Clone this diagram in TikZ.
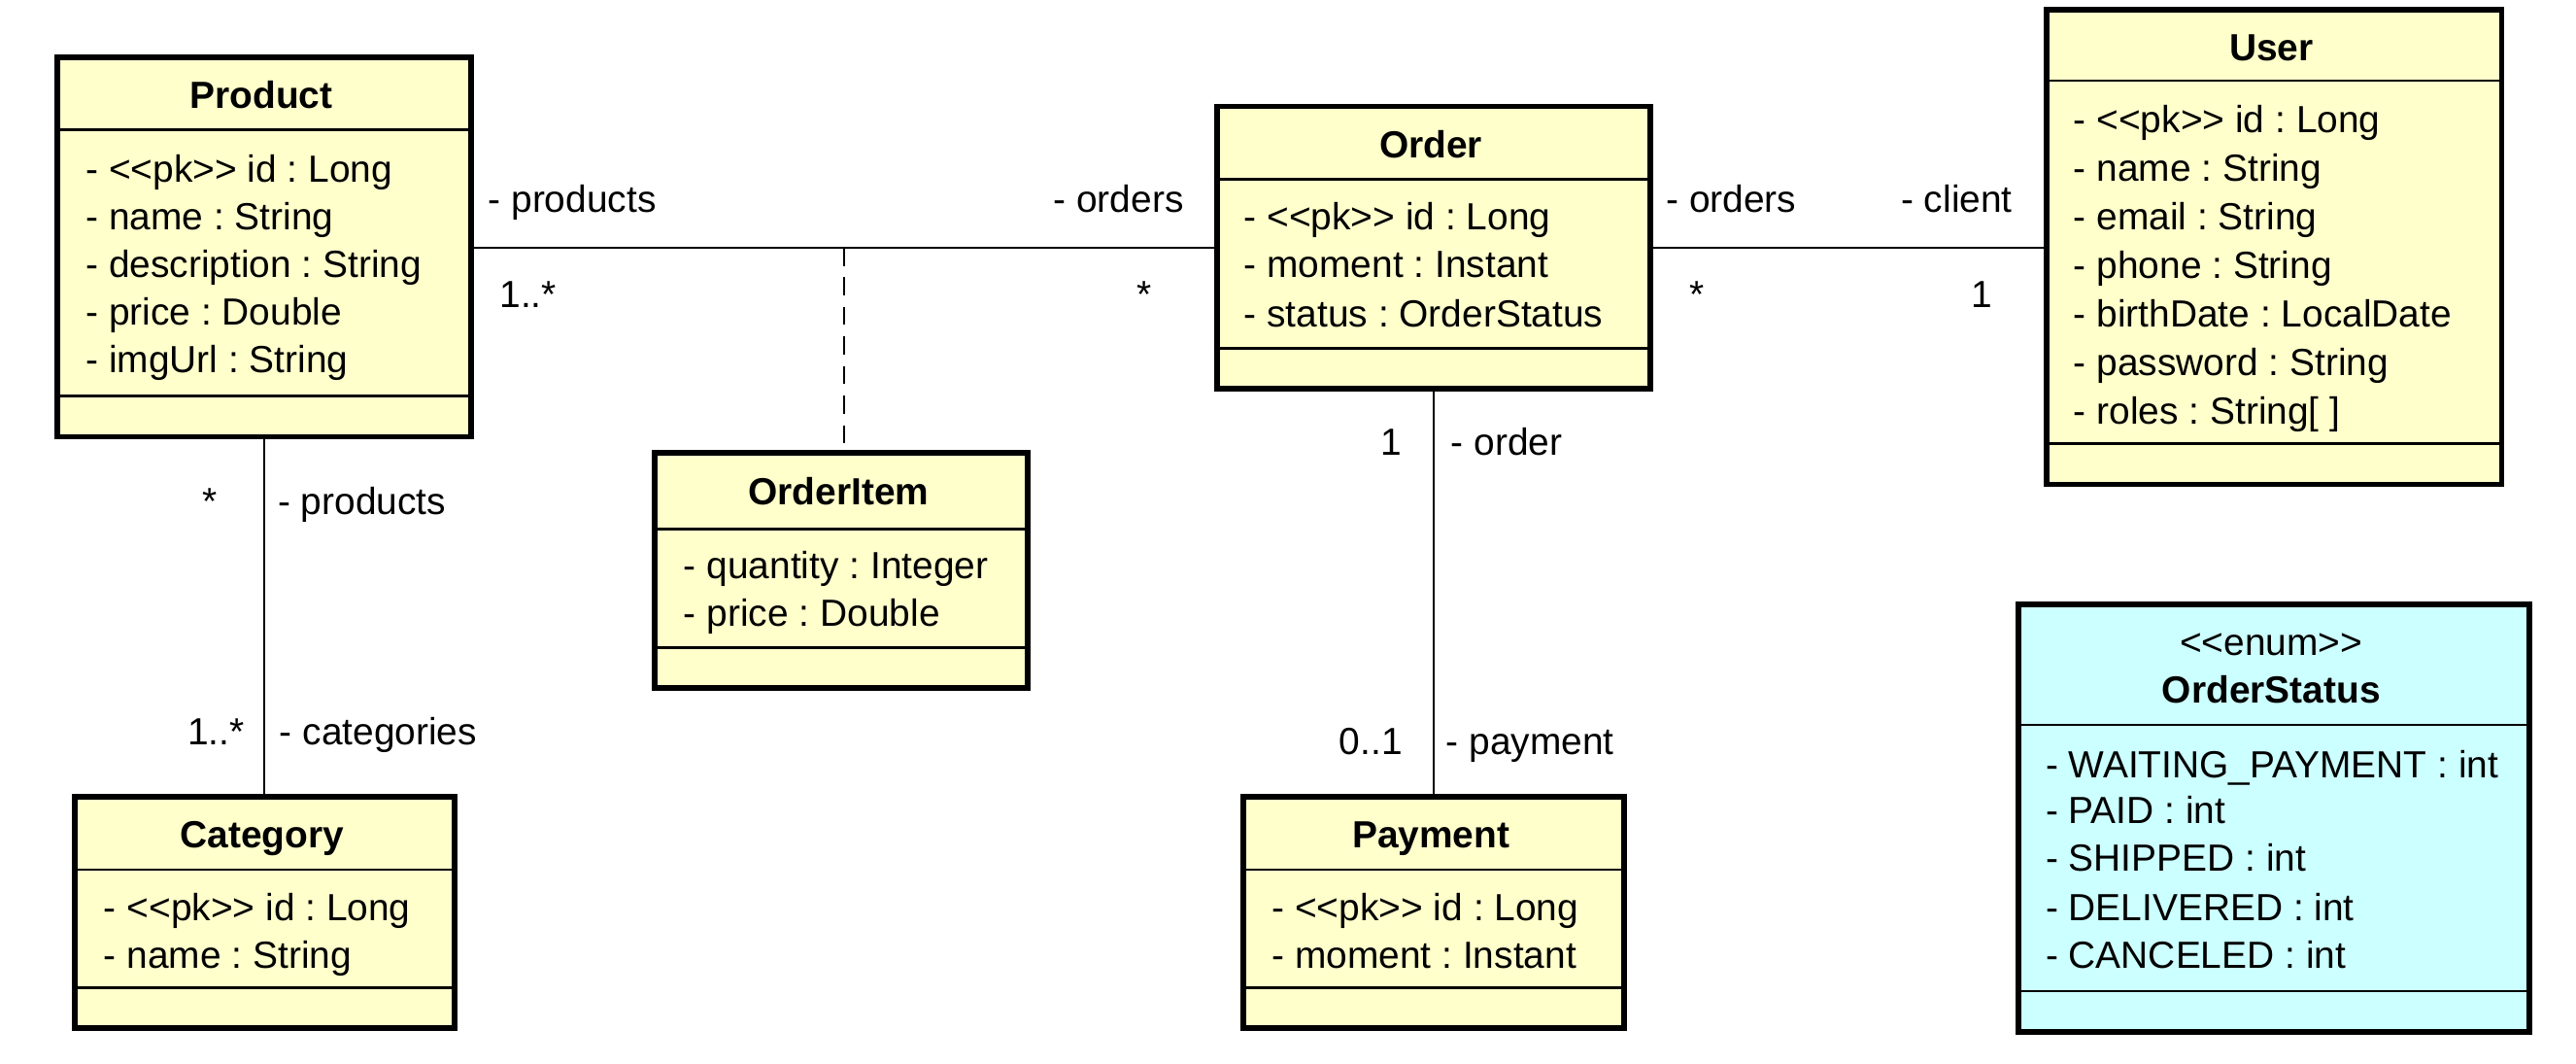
\documentclass[tikz,border=0pt]{standalone}
\usepackage{fontspec}
\setmainfont{Liberation Sans}
\usetikzlibrary{calc}
\frenchspacing
\definecolor{clsfill}{HTML}{FFFFCC}
\definecolor{enumfill}{HTML}{CCFFFF}
\newcommand\stereo[1]{<\kern0pt<#1>\kern0pt>}
\tikzset{
  cls/.style={draw=black, line width=3.5pt, fill=clsfill, anchor=north west, inner sep=0pt},
  enumcls/.style={cls, fill=enumfill},
  divider/.style={line width=1.4pt},
  attr/.style={anchor=base west, inner sep=0pt, font=\fontsize{23}{29}\selectfont},
  ttl/.style={anchor=base, inner sep=0pt, font=\fontsize{23}{29}\selectfont\bfseries},
  lbl/.style={anchor=base west, inner sep=0pt, font=\fontsize{23}{29}\selectfont},
  assoc/.style={line width=1.5pt},
  assocclass/.style={line width=1.5pt, dash pattern=on 11pt off 7pt},
}
\begin{document}
\begin{tikzpicture}[x=1pt,y=-1pt]
\fill[white] (0,0) rectangle (1568,647.4);
\useasboundingbox (0,0) rectangle (1568,647.4);

% Product
\node[cls, minimum width=252pt, minimum height=231pt] (prod) at (33,33) {};
\draw[divider] (33,79) -- (285,79);
\draw[divider] (33,241) -- (285,241);
\node[ttl] (prodT) at (159,66) {Product};
\node[attr] (prodA1) at (52,111) {- \stereo{pk} id : Long};
\node[attr] (prodA2) at (52,140) {- name : String};
\node[attr] (prodA3) at (52,169) {- description : String};
\node[attr] (prodA4) at (52,198) {- price : Double};
\node[attr] (prodA5) at (52,227) {- imgUrl : String};

% Order
\node[cls, minimum width=264pt, minimum height=172pt] (ord) at (739,63) {};
\draw[divider] (739,109) -- (1003,109);
\draw[divider] (739,212) -- (1003,212);
\node[ttl] (ordT) at (871,96) {Order};
\node[attr] (ordA1) at (757,140) {- \stereo{pk} id : Long};
\node[attr] (ordA2) at (757,169) {- moment : Instant};
\node[attr] (ordA3) at (757,199) {- status : OrderStatus};

% User
\node[cls, minimum width=277pt, minimum height=289pt] (user) at (1244,4) {};
\draw[divider] (1244,49) -- (1521,49);
\draw[divider] (1244,270) -- (1521,270);
\node[ttl] (userT) at (1382.5,37) {User};
\node[attr] (userA1) at (1262,81) {- \stereo{pk} id : Long};
\node[attr] (userA2) at (1262,110.5) {- name : String};
\node[attr] (userA3) at (1262,140) {- email : String};
\node[attr] (userA4) at (1262,169.5) {- phone : String};
\node[attr] (userA5) at (1262,199) {- birthDate : LocalDate};
\node[attr] (userA6) at (1262,228.5) {- password : String};
\node[attr] (userA7) at (1262,258) {- roles : String[ ]};

% OrderItem
\node[cls, minimum width=227pt, minimum height=143pt] (oi) at (397,274) {};
\draw[divider] (397,322) -- (624,322);
\draw[divider] (397,394) -- (624,394);
\node[ttl] (oiT) at (510.5,307) {OrderItem};
\node[attr] (oiA1) at (416,352) {- quantity : Integer};
\node[attr] (oiA2) at (416,381) {- price : Double};

% Category
\node[cls, minimum width=231pt, minimum height=141pt] (cat) at (44,483) {};
\draw[divider] (44,529) -- (275,529);
\draw[divider] (44,601) -- (275,601);
\node[ttl] (catT) at (159.5,516) {Category};
\node[attr] (catA1) at (63,560) {- \stereo{pk} id : Long};
\node[attr] (catA2) at (63,589) {- name : String};

% Payment
\node[cls, minimum width=232pt, minimum height=141pt] (pay) at (755,483) {};
\draw[divider] (755,529) -- (987,529);
\draw[divider] (755,601) -- (987,601);
\node[ttl] (payT) at (871,516) {Payment};
\node[attr] (payA1) at (774,560) {- \stereo{pk} id : Long};
\node[attr] (payA2) at (774,589) {- moment : Instant};

% OrderStatus
\node[enumcls, minimum width=311pt, minimum height=260pt] (os) at (1227,366) {};
\draw[divider] (1227,441) -- (1538,441);
\draw[divider] (1227,603) -- (1538,603);
\node[attr, anchor=base] (osS) at (1382.5,399) {\stereo{enum}};
\node[ttl] (osT) at (1382.5,428) {OrderStatus};
\node[attr] (osA1) at (1245,473) {- WAITING\_PAYMENT : int};
\node[attr] (osA2) at (1245,501) {- PAID : int};
\node[attr] (osA3) at (1245,530) {- SHIPPED : int};
\node[attr] (osA4) at (1245,560) {- DELIVERED : int};
\node[attr] (osA5) at (1245,589) {- CANCELED : int};

% Associations
\draw[assoc] (prod.east |- ord) -- (ord.west);
\draw[assoc] (ord.east) -- (user.west |- ord);
\draw[assoc] (prod.south) -- (prod.south |- cat.north);
\draw[assoc] (ord.south) -- (ord.south |- pay.north);
\coordinate (mid) at ($(prod.east |- ord)!0.5!(ord.west)$);
\draw[assocclass] (mid) -- (mid |- oi.north);

% Role names and multiplicities
\node[lbl] (l1) at (297,129) {- products};
\node[lbl] (m1) at (304,187) {1..*};
\node[lbl] (l2) at (641,129) {- orders};
\node[lbl] (m2) at (692,187) {*};
\node[lbl] (l3) at (1014,129) {- orders};
\node[lbl] (m3) at (1028,187) {*};
\node[lbl] (l4) at (1157,129) {- client};
\node[lbl] (m4) at (1200,187) {1};
\node[lbl] (m5) at (123,313) {*};
\node[lbl] (l5) at (169,313) {- products};
\node[lbl] (m6) at (114,453) {1..*};
\node[lbl] (l6) at (170,453) {- categories};
\node[lbl] (m7) at (840,277) {1};
\node[lbl] (l7) at (883,277) {- order};
\node[lbl] (m8) at (815,459) {0..1};
\node[lbl] (l8) at (880,459) {- payment};
\end{tikzpicture}
\end{document}
